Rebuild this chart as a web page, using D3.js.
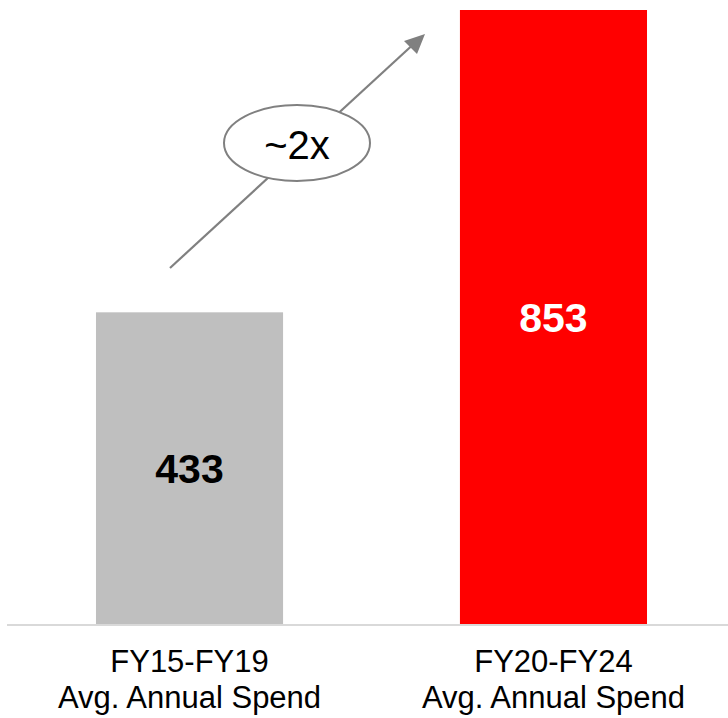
<!DOCTYPE html>
<html>
<head>
<meta charset="utf-8">
<script src="https://cdn.jsdelivr.net/npm/d3@7"></script>
<style>
html,body{margin:0;padding:0;background:#fff;}
svg{display:block;}
</style>
</head>
<body>
<svg id="chart" width="728" height="718"></svg>
<script>
const categories = ["FY15-FY19", "FY20-FY24"];
const subLabel = "Avg. Annual Spend";
const values = [433, 853];
const barColors = ["#bfbfbf", "#ff0000"];
const valueColors = ["#000000", "#ffffff"];
const growthLabel = "~2x";

const svg = d3.select("#chart");
const font = "'Liberation Sans', Arial, sans-serif";

const x = d3.scaleBand().domain(categories).range([5, 738]).paddingInner(0.486).paddingOuter(0.25);
const y = d3.scaleLinear().domain([0, 853]).range([624, 10]);

// bars
svg.selectAll("rect.bar").data(values).enter().append("rect")
  .attr("class", "bar")
  .attr("x", (d, i) => x(categories[i]))
  .attr("y", d => y(d))
  .attr("width", x.bandwidth())
  .attr("height", d => y(0) - y(d))
  .attr("fill", (d, i) => barColors[i]);

// baseline
svg.append("line")
  .attr("x1", 7).attr("x2", 728)
  .attr("y1", y(0) + 1).attr("y2", y(0) + 1)
  .attr("stroke", "#d9d9d9").attr("stroke-width", 2);

// value labels
svg.selectAll("text.val").data(values).enter().append("text")
  .attr("class", "val")
  .attr("x", (d, i) => x(categories[i]) + x.bandwidth() / 2)
  .attr("y", d => (y(0) + y(d)) / 2 + 15)
  .attr("text-anchor", "middle")
  .attr("font-family", font)
  .attr("font-weight", "bold")
  .attr("font-size", 41)
  .attr("fill", (d, i) => valueColors[i])
  .text(d => d);

// category labels
const lab = svg.selectAll("text.cat").data(categories).enter().append("text")
  .attr("class", "cat")
  .attr("text-anchor", "middle")
  .attr("font-family", font)
  .attr("font-size", 31)
  .attr("fill", "#000");
lab.append("tspan")
  .attr("x", d => x(d) + x.bandwidth() / 2)
  .attr("y", 672)
  .text(d => d);
lab.append("tspan")
  .attr("x", d => x(d) + x.bandwidth() / 2)
  .attr("y", 708)
  .text(subLabel);

// growth arrow
svg.append("line")
  .attr("x1", 170).attr("y1", 268)
  .attr("x2", 418).attr("y2", 40)
  .attr("stroke", "#808080").attr("stroke-width", 2.2);
svg.append("path")
  .attr("d", d3.line()([[425, 34], [404, 41], [417, 54]]) + "Z")
  .attr("fill", "#808080");

svg.append("ellipse")
  .attr("cx", 297).attr("cy", 143)
  .attr("rx", 73).attr("ry", 38)
  .attr("fill", "#fff")
  .attr("stroke", "#808080").attr("stroke-width", 2);

svg.append("text")
  .attr("x", 297).attr("y", 159)
  .attr("text-anchor", "middle")
  .attr("font-family", font)
  .attr("font-size", 40)
  .attr("fill", "#000")
  .text(growthLabel);
</script>
</body>
</html>
